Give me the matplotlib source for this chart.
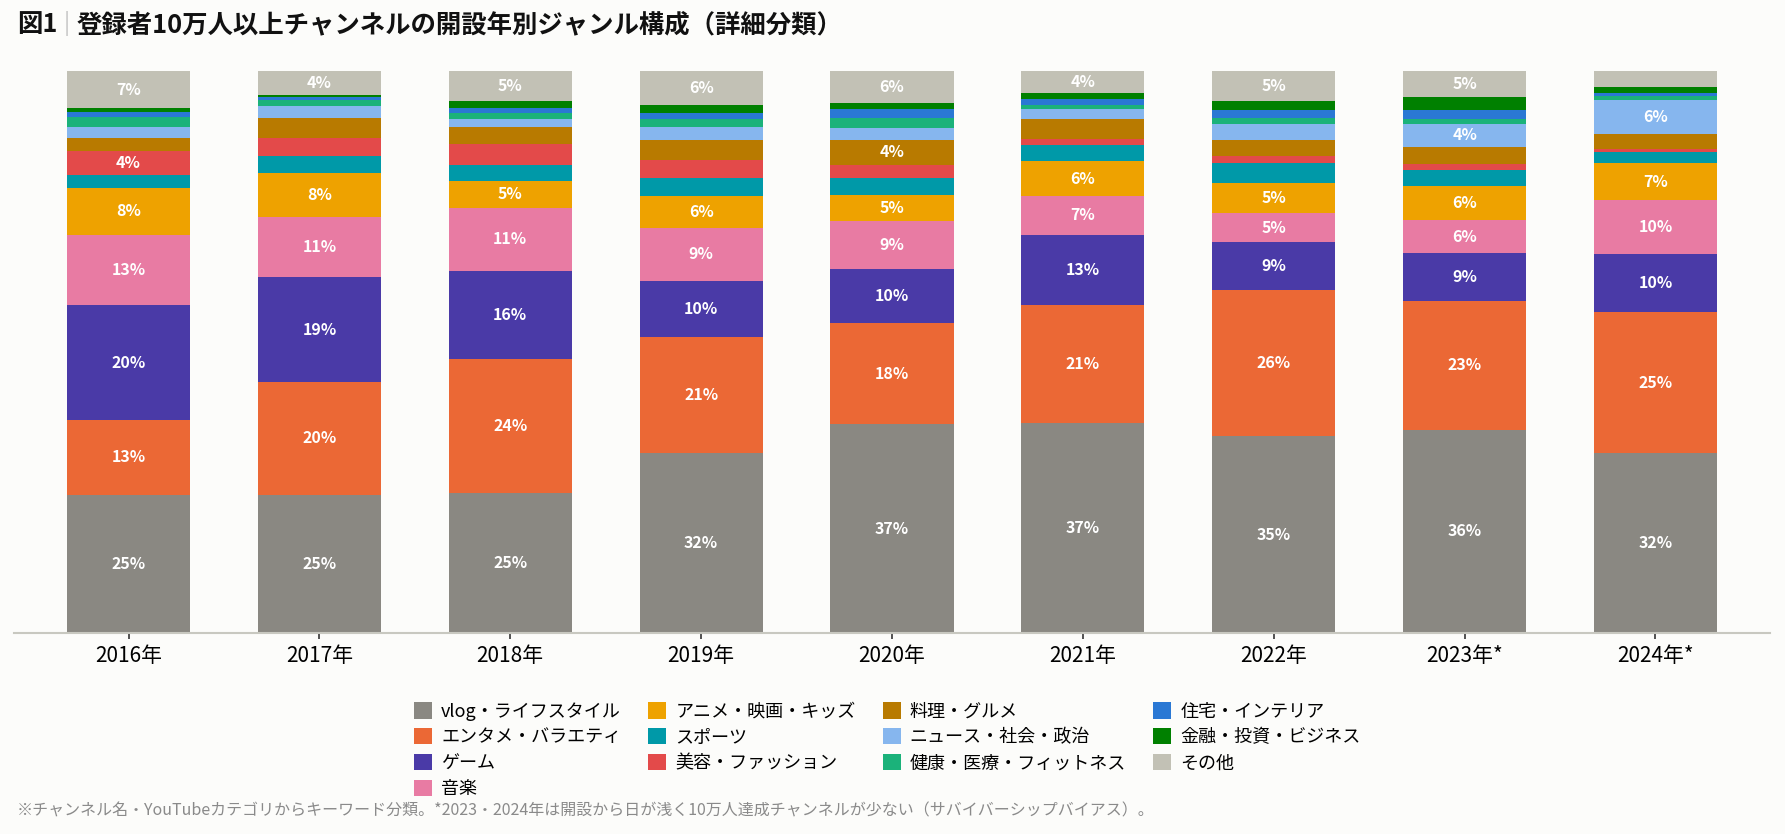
import matplotlib
matplotlib.use("Agg")
import matplotlib.pyplot as plt
import numpy as np

plt.rcParams['font.family'] = ['Noto Sans CJK JP', 'DejaVu Sans']

# Data (percent share per opening year)
years = ['2016年', '2017年', '2018年', '2019年', '2020年', '2021年', '2022年', '2023年*', '2024年*']

genres = [
    'vlog・ライフスタイル', 'エンタメ・バラエティ', 'ゲーム', '音楽',
    'アニメ・映画・キッズ', 'スポーツ', '美容・ファッション', '料理・グルメ',
    'ニュース・社会・政治', '健康・医療・フィットネス', '住宅・インテリア',
    '金融・投資・ビジネス', 'その他',
]

vlog     = [24.6, 24.6, 25.0, 32.0, 37.1, 37.3, 35.0, 36.2, 32.0]
entame   = [13.3, 20.1, 23.7, 20.6, 18.0, 21.0, 26.0, 22.8, 25.1]
game     = [20.4, 18.6, 15.8, 10.1, 9.6, 12.6, 8.6, 8.7, 10.3]
music    = [12.6, 10.7, 11.1, 9.4, 8.6, 6.9, 5.1, 5.7, 9.6]
anime    = [8.2, 7.8, 4.9, 5.7, 4.6, 6.1, 5.4, 6.1, 6.6]
sports   = [2.4, 3.0, 2.7, 3.2, 3.1, 2.9, 3.6, 2.9, 2.0]
beauty   = [4.2, 3.2, 3.8, 3.2, 2.3, 1.1, 1.1, 1.1, 0.5]
cooking  = [2.3, 3.7, 3.0, 3.6, 4.4, 3.6, 2.9, 3.0, 2.7]
news     = [2.0, 2.0, 1.4, 2.3, 2.1, 1.8, 2.9, 4.1, 6.1]
health   = [1.8, 1.1, 1.1, 1.3, 1.8, 0.7, 1.1, 0.9, 0.7]
housing  = [0.9, 0.5, 0.9, 1.1, 1.6, 1.1, 1.4, 1.6, 0.4]
finance  = [0.7, 0.5, 1.3, 1.4, 1.1, 0.9, 1.6, 2.3, 1.1]
other    = [6.6, 4.2, 5.3, 6.1, 5.7, 4.0, 5.3, 4.6, 2.9]

series = [vlog, entame, game, music, anime, sports, beauty, cooking,
          news, health, housing, finance, other]

colors = ['#8a8882', '#eb6835', '#4a3aa7', '#e87ba3', '#eea200', '#0099a8',
          '#e34a4a', '#b87a00', '#86b6ee', '#1bb27a', '#2a78d4', '#008000',
          '#c2c1b5']

BG = '#fcfcfa'
W, H = 1785, 834

fig = plt.figure(figsize=(W / 100, H / 100), dpi=100, facecolor=BG)
ax = fig.add_axes([14 / W, 1 - 633 / H, (1770 - 14) / W, (633 - 71) / H])
ax.set_facecolor(BG)

x = np.arange(len(years))
bottom = np.zeros(len(years))
for name, vals, col in zip(genres, series, colors):
    vals = np.array(vals)
    ax.bar(x, vals, width=0.645, bottom=bottom, color=col, label=name, linewidth=0)
    for xi, v, b in zip(x, vals, bottom):
        if v >= 3.95:
            ax.text(xi, b + v / 2, f'{v:.0f}%', ha='center', va='center',
                    color='white', fontsize=11.5, fontweight='bold')
    bottom += vals

ax.set_xlim(-0.6, 8.6)
ax.set_ylim(0, 100)
ax.set_xticks(x)
ax.set_xticklabels(years, fontsize=15)
ax.set_yticks([])
for side in ('top', 'left', 'right'):
    ax.spines[side].set_visible(False)
ax.spines['bottom'].set_color('#c8c8c0')
ax.spines['bottom'].set_linewidth(1.5)
ax.tick_params(axis='x', length=4, width=1.2, color='#333333', pad=5)

# Title: "図1" + thin gray separator + main text
t1 = fig.text(17 / W, 1 - 25 / H, '図1', fontsize=18.3, fontweight='bold',
              va='center', ha='left', color='#111111')
t2 = ax.annotate('|', xy=(1, 0.5), xycoords=t1, xytext=(4, 1),
                 textcoords='offset points', fontsize=17, color='#b0b0b0',
                 va='center', ha='left', family='DejaVu Sans', fontweight='light')
ax.annotate('登録者10万人以上チャンネルの開設年別ジャンル構成（詳細分類）',
            xy=(1, 0.5), xycoords=t2, xytext=(4, -1), textcoords='offset points',
            fontsize=18.3, fontweight='bold', color='#111111', va='center', ha='left')

# Legend
fig.legend(loc='upper left', bbox_to_anchor=(414 / W, 1 - 702 / H), ncol=4,
           frameon=False, fontsize=13, handlelength=1.0, handleheight=1.0,
           handletextpad=0.5, columnspacing=1.5, labelspacing=0.42,
           borderpad=0, borderaxespad=0)

fig.text(17 / W, 1 - 811 / H,
         '※チャンネル名・YouTubeカテゴリからキーワード分類。*2023・2024年は開設から日が浅く'
         '10万人達成チャンネルが少ない（サバイバーシップバイアス）。',
         fontsize=11.5, color='#8a8a8a', va='center', ha='left')

fig.savefig('out.png', dpi=100, facecolor=BG)
